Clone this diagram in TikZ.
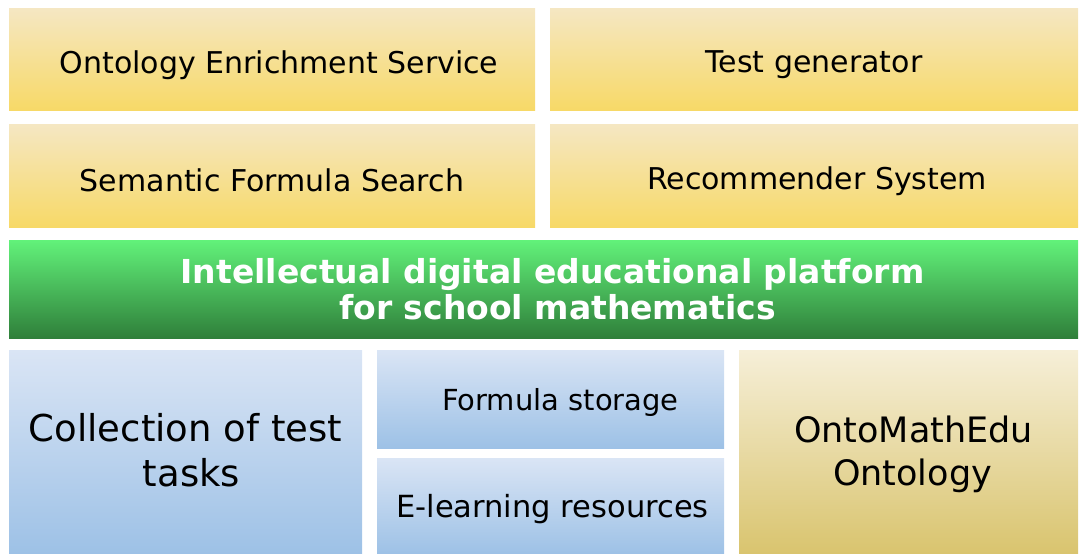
\documentclass[tikz,border=0pt]{standalone}
\usepackage{fontspec}
\setmainfont{DejaVu Sans}
\usepackage{tikz}
\usetikzlibrary{positioning}
\definecolor{sandtop}{HTML}{F5E7C3}
\definecolor{sandbot}{HTML}{F7D967}
\definecolor{skytop}{HTML}{DAE5F5}
\definecolor{skybot}{HTML}{9DC1E6}
\definecolor{leaftop}{HTML}{62F27A}
\definecolor{leafbot}{HTML}{2F7F3A}
\definecolor{goldtop}{HTML}{F6EFD8}
\definecolor{goldbot}{HTML}{D9C46E}

% move a line of text right by #1 and down by #2
\newcommand{\nudge}[3]{\raisebox{-#2}[\height][\depth]{\hspace*{#1}#3\hspace*{-#1}}}

\tikzset{
  block/.style={anchor=north west, inner sep=0pt, outer sep=0pt, align=center},
  service/.style={block, top color=sandtop, bottom color=sandbot,
    minimum width=526pt, minimum height=102pt, font=\fontsize{30}{36}\selectfont},
  store/.style={block, top color=skytop, bottom color=skybot},
  onto/.style={block, top color=goldtop, bottom color=goldbot},
  platform/.style={block, top color=leaftop, bottom color=leafbot, text=white,
    minimum width=1069pt, minimum height=98pt, font=\fontsize{33}{36}\selectfont\bfseries}
}

\begin{document}
\begin{tikzpicture}[x=1pt,y=-1pt]
  \useasboundingbox (0,0) rectangle (1079,554);
  % services
  \node[service] (enrich) at (9,8) {\nudge{7pt}{6pt}{Ontology Enrichment Service}};
  \node[service, minimum width=528pt] (testgen) at (550,8) {\nudge{0pt}{6pt}{Test generator}};
  \node[service, minimum height=103pt] (search) at (9,124) {\nudge{0pt}{5pt}{Semantic Formula Search}};
  \node[service, minimum width=528pt, minimum height=103pt] (recomm) at (550,124) {\nudge{3pt}{6pt}{Recommender System}};
  % platform
  \node[platform] (platform) at (9,240)
    {\nudge{9pt}{0pt}{Intellectual digital educational platform}\\\nudge{14pt}{0pt}{for school mathematics}};
  % data
  \node[store, minimum width=353pt, minimum height=204pt,
    font=\fontsize{37}{45}\selectfont] (tasks) at (9,350)
    {\nudge{0pt}{-2pt}{Collection of test}\\\nudge{6pt}{-2pt}{tasks}};
  \node[store, minimum width=347pt, minimum height=98pt,
    font=\fontsize{29}{34}\selectfont] (formulas) at (377,350) {\nudge{10pt}{3pt}{Formula storage}};
  \node[store, minimum width=347pt, minimum height=96pt,
    font=\fontsize{30.5}{36}\selectfont] (elearn) at (377,458) {\nudge{2pt}{3pt}{E-learning resources}};
  \node[onto, minimum width=339pt, minimum height=204pt,
    font=\fontsize{35}{43}\selectfont] (ontology) at (739,350)
    {\nudge{5pt}{2pt}{OntoMathEdu}\\\nudge{4pt}{2pt}{Ontology}};
\end{tikzpicture}
\end{document}
